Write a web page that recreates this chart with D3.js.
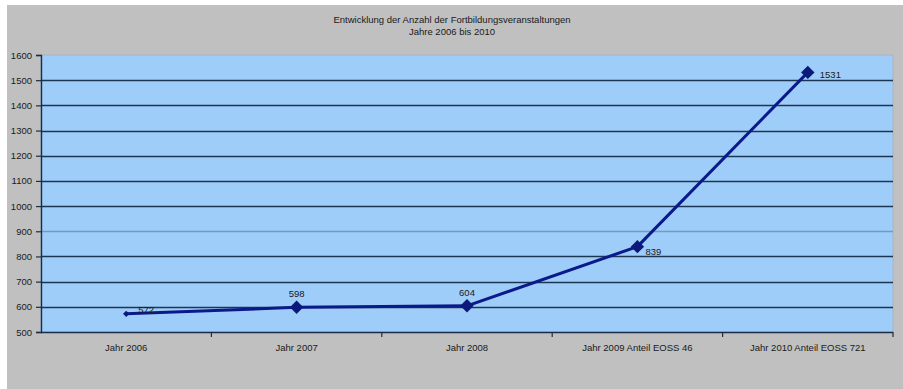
<!DOCTYPE html>
<html>
<head>
<meta charset="utf-8">
<script src="https://cdn.jsdelivr.net/npm/d3@7"></script>
<style>
  html, body { margin: 0; padding: 0; background: #ffffff; }
  svg { display: block; }
  text { font-family: "Liberation Sans", Arial, sans-serif; fill: #1a1a1a; }
</style>
</head>
<body>
<svg id="chart" width="903" height="389"></svg>
<script>
// Kategorien und Werte
const categories = [
  "Jahr 2006",
  "Jahr 2007",
  "Jahr 2008",
  "Jahr 2009 Anteil EOSS 46",
  "Jahr 2010 Anteil EOSS 721"
];
const values = [572, 598, 604, 839, 1531];
const yTicks = [500, 600, 700, 800, 900, 1000, 1100, 1200, 1300, 1400, 1500, 1600];
const titleLines = [
  "Entwicklung der Anzahl der Fortbildungsveranstaltungen",
  "Jahre 2006 bis 2010"
];

const W = 903, H = 389;
const svg = d3.select("#chart");

// Diagrammfläche (grau)
svg.append("rect")
  .attr("x", 7).attr("y", 5)
  .attr("width", W - 7).attr("height", H - 5)
  .attr("fill", "#c0c0c0");

const plot = { left: 41, right: 893, top: 55, bottom: 332 };

const x = d3.scaleBand()
  .domain(categories)
  .range([plot.left, plot.right])
  .padding(0);

const y = d3.scaleLinear()
  .domain([500, 1600])
  .range([plot.bottom, plot.top]);

// Zeichnungsfläche (hellblau)
svg.append("rect")
  .attr("x", plot.left).attr("y", plot.top)
  .attr("width", plot.right - plot.left)
  .attr("height", plot.bottom - plot.top)
  .attr("fill", "#9fcdf9")
  .attr("stroke", "#a8b4c0")
  .attr("stroke-width", 1);

// Hauptgitternetzlinien
svg.append("g")
  .selectAll("line")
  .data(yTicks.filter(d => d > 500 && d < 1600))
  .join("line")
  .attr("x1", plot.left).attr("x2", plot.right)
  .attr("y1", d => Math.round(y(d)) + 0.5)
  .attr("y2", d => Math.round(y(d)) + 0.5)
  .attr("stroke", d => d === 900 ? "#6f9cc4" : "#1c3550")
  .attr("stroke-width", 1.6);

// Y-Achse
const yAxis = d3.axisLeft(y)
  .tickValues(yTicks)
  .tickSize(5)
  .tickPadding(4)
  .tickFormat(d3.format("d"));

const gy = svg.append("g")
  .attr("transform", `translate(${plot.left},0)`)
  .call(yAxis);
gy.select(".domain").attr("stroke", "#1c2c44").attr("stroke-width", 1.4);
gy.selectAll(".tick line").attr("stroke", "#1c2c44").attr("stroke-width", 1.2);
gy.selectAll(".tick text")
  .style("font-size", "9.5px")
  .style("fill", "#1a1a1a");

// X-Achse
const xAxis = d3.axisBottom(x).tickSize(0).tickPadding(12);
const gx = svg.append("g")
  .attr("transform", `translate(0,${plot.bottom})`)
  .call(xAxis);
gx.select(".domain").remove();
gx.selectAll(".tick text")
  .style("font-size", "9.5px")
  .style("fill", "#1a1a1a");

svg.append("line")
  .attr("x1", plot.left).attr("x2", plot.right)
  .attr("y1", plot.bottom + 0.5).attr("y2", plot.bottom + 0.5)
  .attr("stroke", "#1c2c44").attr("stroke-width", 1.6);

// Teilstriche zwischen den Kategorien
const bounds = categories.map(c => x(c)).slice(1).concat([plot.right]);
svg.append("g")
  .selectAll("line")
  .data(bounds)
  .join("line")
  .attr("x1", d => d).attr("x2", d => d)
  .attr("y1", plot.bottom).attr("y2", plot.bottom + 5)
  .attr("stroke", "#1c2c44").attr("stroke-width", 1.2);

// Datenlinie
const pts = categories.map((c, i) => ({ c, v: values[i], px: x(c) + x.bandwidth() / 2, py: y(values[i]) }));

svg.append("path")
  .datum(pts)
  .attr("fill", "none")
  .attr("stroke", "#0b1a8a")
  .attr("stroke-width", 3)
  .attr("stroke-linejoin", "round")
  .attr("d", d3.line().x(d => d.px).y(d => d.py));

// Rautenmarkierungen (gedrehte Quadrate)
svg.append("g")
  .selectAll("path")
  .data(pts)
  .join("path")
  .attr("transform", d => `translate(${d.px},${d.py}) rotate(45)`)
  .attr("d", (d, i) => d3.symbol().type(d3.symbolSquare).size(i === 0 ? 20 : 90)())
  .attr("fill", "#0b1a7a");

// Datenbeschriftungen
const labelOffsets = [
  { dx: 12, dy: -1, anchor: "start" },
  { dx: 0, dy: -10, anchor: "middle" },
  { dx: 0, dy: -10, anchor: "middle" },
  { dx: 8, dy: 8, anchor: "start" },
  { dx: 12, dy: 6, anchor: "start" }
];
svg.append("g")
  .selectAll("text")
  .data(pts)
  .join("text")
  .attr("x", (d, i) => d.px + labelOffsets[i].dx)
  .attr("y", (d, i) => d.py + labelOffsets[i].dy)
  .attr("text-anchor", (d, i) => labelOffsets[i].anchor)
  .style("font-size", "9.5px")
  .text(d => d.v);

// Titel
svg.append("g")
  .selectAll("text")
  .data(titleLines)
  .join("text")
  .attr("x", 452)
  .attr("y", (d, i) => 23 + i * 12)
  .attr("text-anchor", "middle")
  .style("font-size", "9.5px")
  .text(d => d);
</script>
</body>
</html>
